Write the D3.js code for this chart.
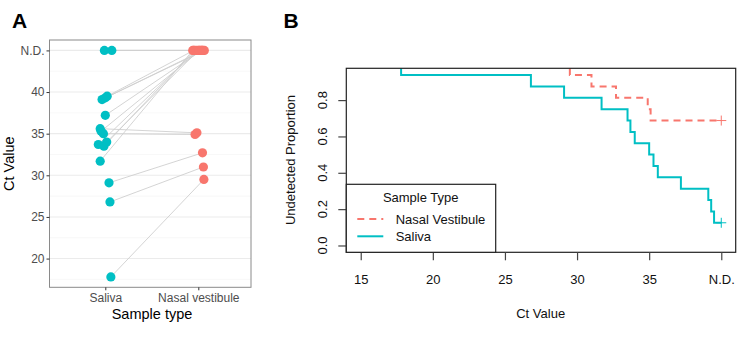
<!DOCTYPE html>
<html>
<head>
<meta charset="utf-8">
<script src="https://cdn.jsdelivr.net/npm/d3@7"></script>
<style>
  body { margin: 0; background: #fff; }
  text { font-family: "Liberation Sans", Arial, sans-serif; }
</style>
</head>
<body>
<svg width="750" height="348"></svg>
<script>
// paired samples, null = not detected (N.D.)
var salivaCt = [17.8, 26.8, 29.1, 31.7, 33.5, 33.7, 34.0, 35.0, 35.3, 35.6, 37.2, 39.1, 39.3, 39.5, null, null]
var nasalCt  = [29.5, 31.0, 32.7, null, null, null, null, 34.9, null, 35.1, null, null, null, null, null, null]
// horizontal jitter (in category units)
var salivaJitter = [0.06, 0.05, 0.04, -0.055, -0.015, -0.075, 0.015, -0.02, -0.045, -0.055, 0, -0.035, 0, 0.02, -0.01, 0.07]
var nasalJitter  = [0.06, 0.055, 0.045, -0.06, -0.04, -0.02, 0, -0.035, 0.02, -0.015, 0.035, 0.05, 0.065, -0.05, 0.01, 0.04]

var sampleTypes = ["Saliva", "Nasal vestibule"]
var aTicks = [20, 25, 30, 35, 40, 45]
var aMinor = [17.5, 22.5, 27.5, 32.5, 37.5, 42.5]
var bXTicks = [15, 20, 25, 30, 35, 40]
var bYTicks = [0, 0.2, 0.4, 0.6, 0.8]
var legendNames = ["Nasal Vestibule", "Saliva"]

var ndA = 45   // N.D. position in panel A
var ndB = 40   // N.D. position in panel B

var salivaColor = "#00BFC4"
var nasalColor = "#F8766D"

var svg = d3.select("svg")

// ---------------- panel A ----------------
var panelA = {left: 49.5, right: 251, top: 40, bottom: 287.3}

var xA = d3.scaleLinear().domain([1, 2]).range([105.3, 198.3])
var yA = d3.scaleLinear().domain([16.55, 46.25]).range([panelA.bottom, panelA.top])

var gA = svg.append("g")

gA.selectAll(".minor")
  .data(aMinor)
  .enter()
  .append("line")
  .attr("x1", panelA.left).attr("x2", panelA.right)
  .attr("y1", function(d) {return yA(d)})
  .attr("y2", function(d) {return yA(d)})
  .attr("stroke", "#F3F3F3").attr("stroke-width", 0.6)

gA.selectAll(".major")
  .data(aTicks)
  .enter()
  .append("line")
  .attr("x1", panelA.left).attr("x2", panelA.right)
  .attr("y1", function(d) {return yA(d)})
  .attr("y2", function(d) {return yA(d)})
  .attr("stroke", "#EBEBEB").attr("stroke-width", 1.1)

var pairs = salivaCt.map(function(s, i) {
  return {
    sx: 1 + salivaJitter[i], sy: s === null ? ndA : s,
    nx: 2 + nasalJitter[i], ny: nasalCt[i] === null ? ndA : nasalCt[i]
  }
})

gA.selectAll(".pair")
  .data(pairs)
  .enter()
  .append("line")
  .attr("x1", function(d) {return xA(d.sx)})
  .attr("y1", function(d) {return yA(d.sy)})
  .attr("x2", function(d) {return xA(d.nx)})
  .attr("y2", function(d) {return yA(d.ny)})
  .attr("stroke", "#CFCFCF").attr("stroke-width", 0.9)

gA.selectAll(".sal")
  .data(pairs)
  .enter()
  .append("circle")
  .attr("cx", function(d) {return xA(d.sx)})
  .attr("cy", function(d) {return yA(d.sy)})
  .attr("r", 4.6)
  .attr("fill", salivaColor)

gA.selectAll(".nas")
  .data(pairs)
  .enter()
  .append("circle")
  .attr("cx", function(d) {return xA(d.nx)})
  .attr("cy", function(d) {return yA(d.ny)})
  .attr("r", 4.6)
  .attr("fill", nasalColor)

gA.append("rect")
  .attr("x", panelA.left).attr("y", panelA.top)
  .attr("width", panelA.right - panelA.left)
  .attr("height", panelA.bottom - panelA.top)
  .attr("fill", "none").attr("stroke", "#8A8A8A").attr("stroke-width", 1)

var yAxisA = d3.axisLeft(yA)
  .tickValues(aTicks)
  .tickSize(3)
  .tickPadding(2)
  .tickFormat(function(d) {return d === ndA ? "N.D." : d})

gA.append("g")
  .attr("transform", "translate(" + panelA.left + ",0)")
  .call(yAxisA)
  .call(function(g) {
    g.select(".domain").remove()
    g.selectAll("line").attr("stroke", "#333")
    g.selectAll("text").attr("fill", "#4D4D4D").attr("font-size", 12)
  })

var xAxisA = d3.axisBottom(xA)
  .tickValues([1, 2])
  .tickSize(3)
  .tickPadding(3)
  .tickFormat(function(d) {return sampleTypes[d - 1]})

gA.append("g")
  .attr("transform", "translate(0," + panelA.bottom + ")")
  .call(xAxisA)
  .call(function(g) {
    g.select(".domain").remove()
    g.selectAll("line").attr("stroke", "#333")
    g.selectAll("text").attr("fill", "#4D4D4D").attr("font-size", 12)
  })

gA.append("text")
  .attr("x", 152).attr("y", 318.5)
  .attr("text-anchor", "middle")
  .attr("font-size", 14.5)
  .text("Sample type")

gA.append("text")
  .attr("transform", "translate(13.5," + ((panelA.top + panelA.bottom) / 2) + ") rotate(-90)")
  .attr("text-anchor", "middle")
  .attr("font-size", 14.5)
  .text("Ct Value")

svg.append("text")
  .attr("x", 12).attr("y", 27.7)
  .attr("font-size", 21).attr("font-weight", "bold")
  .text("A")

// ---------------- panel B ----------------
var panelB = {left: 346.3, right: 735.7, top: 68.3, bottom: 252.3}

var xB = d3.scaleLinear().domain([14, 41]).range([panelB.left, panelB.right])
var yB = d3.scaleLinear().domain([-0.0375, 0.975]).range([panelB.bottom, panelB.top])

// Kaplan-Meier steps; N.D. samples are censored at ndB
var kmSteps = function(values)
{
  var sorted = values.slice().sort(function(a, b) {
    return (a === null ? ndB + 1 : a) - (b === null ? ndB + 1 : b)
  })
  var s = 1
  var pts = [{x: 14, y: 1}]
  var atRisk = sorted.length
  sorted.forEach(function(v) {
    if (v !== null) {
      s = s * (1 - 1 / atRisk)
      pts.push({x: v, y: s})
    }
    atRisk = atRisk - 1
  })
  pts.push({x: ndB, y: s})
  return pts
}

var curves = [
  {name: "Nasal Vestibule", color: nasalColor, dash: "7,5", pts: kmSteps(nasalCt)},
  {name: "Saliva", color: salivaColor, dash: null, pts: kmSteps(salivaCt)}
]

svg.append("clipPath")
  .attr("id", "clipB")
  .append("rect")
  .attr("x", panelB.left).attr("y", panelB.top)
  .attr("width", panelB.right - panelB.left)
  .attr("height", panelB.bottom - panelB.top)

var stepLine = d3.line()
  .x(function(d) {return xB(d.x)})
  .y(function(d) {return yB(d.y)})
  .curve(d3.curveStepAfter)

var gB = svg.append("g")

gB.selectAll(".km")
  .data(curves)
  .enter()
  .append("path")
  .attr("clip-path", "url(#clipB)")
  .attr("d", function(c) {return stepLine(c.pts)})
  .attr("fill", "none")
  .attr("stroke", function(c) {return c.color})
  .attr("stroke-width", 2)
  .attr("stroke-dasharray", function(c) {return c.dash})

// censor marks at N.D.
gB.selectAll(".cens")
  .data(curves)
  .enter()
  .append("path")
  .attr("d", function(c) {
    var last = c.pts[c.pts.length - 1]
    var cx = xB(last.x), cy = yB(last.y)
    return "M" + (cx - 5) + "," + cy + "H" + (cx + 5) + "M" + cx + "," + (cy - 5) + "V" + (cy + 5)
  })
  .attr("stroke", function(c) {return c.color})
  .attr("stroke-width", 1)

gB.append("rect")
  .attr("x", panelB.left).attr("y", panelB.top)
  .attr("width", panelB.right - panelB.left)
  .attr("height", panelB.bottom - panelB.top)
  .attr("fill", "none").attr("stroke", "#222").attr("stroke-width", 1.2)

var xAxisB = d3.axisBottom(xB)
  .tickValues(bXTicks)
  .tickSize(8)
  .tickPadding(14)
  .tickFormat(function(d) {return d === ndB ? "N.D." : d})

gB.append("g")
  .attr("transform", "translate(0," + panelB.bottom + ")")
  .call(xAxisB)
  .call(function(g) {
    g.select(".domain").remove()
    g.selectAll("line").attr("stroke", "#444").attr("stroke-width", 1.2)
    g.selectAll("text").attr("fill", "#111").attr("font-size", 13)
  })

var yAxisB = d3.axisLeft(yB)
  .tickValues(bYTicks)
  .tickSize(8)
  .tickFormat("")

gB.append("g")
  .attr("transform", "translate(" + panelB.left + ",0)")
  .call(yAxisB)
  .call(function(g) {
    g.select(".domain").remove()
    g.selectAll("line").attr("stroke", "#444").attr("stroke-width", 1.2)
  })

gB.selectAll(".ylab")
  .data(bYTicks)
  .enter()
  .append("text")
  .attr("transform", function(d) {return "translate(326.5," + yB(d) + ") rotate(-90)"})
  .attr("text-anchor", "middle")
  .attr("font-size", 13)
  .attr("fill", "#111")
  .text(function(d) {return d3.format(".1f")(d)})

gB.append("text")
  .attr("transform", "translate(295,160) rotate(-90)")
  .attr("text-anchor", "middle")
  .attr("font-size", 13)
  .attr("fill", "#111")
  .text("Undetected Proportion")

gB.append("text")
  .attr("x", 540.7).attr("y", 317.5)
  .attr("text-anchor", "middle")
  .attr("font-size", 13)
  .attr("fill", "#111")
  .text("Ct Value")

// legend
var legend = gB.append("g")
legend.append("rect")
  .attr("x", panelB.left).attr("y", 184.3)
  .attr("width", 495.7 - panelB.left).attr("height", panelB.bottom - 184.3)
  .attr("fill", "#fff").attr("stroke", "#222").attr("stroke-width", 1.2)

legend.append("text")
  .attr("x", 420.7).attr("y", 202)
  .attr("text-anchor", "middle")
  .attr("font-size", 13)
  .attr("fill", "#111")
  .text("Sample Type")

var legendRows = legend.selectAll(".row")
  .data(curves)
  .enter()
  .append("g")
  .attr("transform", function(c, i) {return "translate(0," + (219 + i * 17.3) + ")"})

legendRows.append("line")
  .attr("x1", 357.3).attr("x2", 383.3)
  .attr("stroke", function(c) {return c.color})
  .attr("stroke-width", 2)
  .attr("stroke-dasharray", function(c) {return c.dash})

legendRows.append("text")
  .attr("x", 395.7).attr("y", 4.6)
  .attr("font-size", 13)
  .attr("fill", "#111")
  .text(function(c, i) {return legendNames[i]})

svg.append("text")
  .attr("x", 283.5).attr("y", 27.7)
  .attr("font-size", 21).attr("font-weight", "bold")
  .text("B")
</script>
</body>
</html>
